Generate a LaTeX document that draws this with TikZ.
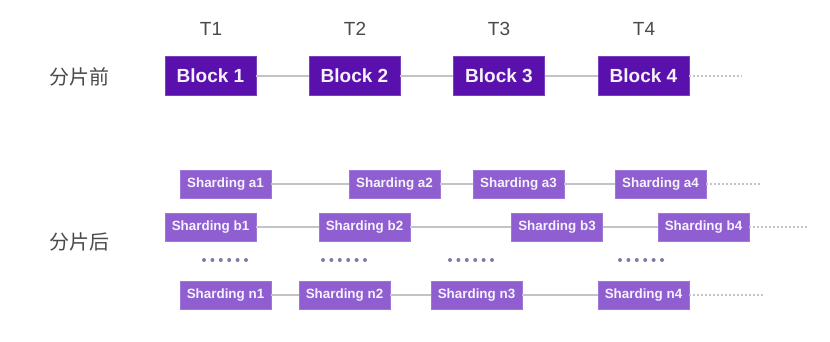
\documentclass[tikz,border=0pt]{standalone}
\usepackage{fontspec}
\setmainfont{Liberation Sans}
\newfontfamily\cjk{Noto Sans CJK SC}
\definecolor{blockc}{HTML}{5A10AD}
\definecolor{shardc}{HTML}{8F5FD2}
\definecolor{linec}{HTML}{C4C4C8}
\definecolor{dotc}{HTML}{7E7BA8}
\definecolor{labc}{HTML}{4A4A4A}
\begin{document}
\begin{tikzpicture}[x=1pt,y=-1pt,
  blockbox/.style={fill=blockc,draw=blockc!80!white,line width=0.6pt,text=white!94!blockc,minimum width=91pt,minimum height=39pt,inner sep=0pt,font=\fontsize{19}{19}\selectfont\bfseries},
  shardbox/.style={fill=shardc,draw=shardc!85!white,line width=0.6pt,text=white!92!shardc,minimum width=91pt,minimum height=28pt,inner sep=0pt,font=\fontsize{13.4}{13.4}\selectfont\bfseries},
  link/.style={draw=linec,line width=1.3pt},
  tail/.style={draw=linec,line width=1.3pt,dash pattern=on 1.5pt off 2.5pt},
  tlab/.style={font=\fontsize{19}{19}\selectfont,text=labc,inner sep=0pt},
  clab/.style={font=\cjk\fontsize{20}{20}\selectfont,text=labc,inner sep=0pt}]
\useasboundingbox (0,0) rectangle (830,342);
\fill[white] (0,0) rectangle (830,342);
% labels
\node[clab] (before) at (79,77) {分片前};
\node[clab] (after) at (79,242) {分片后};
\node[tlab] (t1) at (211,29) {T1};
\node[tlab] (t2) at (355,29) {T2};
\node[tlab] (t3) at (499,29) {T3};
\node[tlab] (t4) at (644,29) {T4};
% blocks
\node[blockbox] (b1) at (210.5,76) {Block 1};
\node[blockbox] (b2) at (354.5,76) {Block 2};
\node[blockbox] (b3) at (499,76) {Block 3};
\node[blockbox] (b4) at (643.5,76) {Block 4};
\coordinate (bend) at (742,76);
\draw[link] (b1) -- (b2) (b2) -- (b3) (b3) -- (b4);
\draw[tail] (b4.east) -- (bend);
% row a
\node[shardbox] (a1) at (225.5,184) {Sharding a1};
\node[shardbox] (a2) at (394.5,184) {Sharding a2};
\node[shardbox] (a3) at (518.5,184) {Sharding a3};
\node[shardbox] (a4) at (660.5,184) {Sharding a4};
\coordinate (aend) at (760,184);
\draw[link] (a1) -- (a2) (a2) -- (a3) (a3) -- (a4);
\draw[tail] (a4.east) -- (aend);
% row b
\node[shardbox] (s1) at (210.5,227) {Sharding b1};
\node[shardbox] (s2) at (364.5,227) {Sharding b2};
\node[shardbox] (s3) at (557,227) {Sharding b3};
\node[shardbox] (s4) at (703.5,227) {Sharding b4};
\coordinate (send) at (808,227);
\draw[link] (s1) -- (s2) (s2) -- (s3) (s3) -- (s4);
\draw[tail] (s4.east) -- (send);
% row n
\node[shardbox] (n1) at (225.5,295) {Sharding n1};
\node[shardbox] (n2) at (344.5,295) {Sharding n2};
\node[shardbox] (n3) at (476.5,295) {Sharding n3};
\node[shardbox] (n4) at (643.5,295) {Sharding n4};
\coordinate (nend) at (763,295);
\draw[link] (n1) -- (n2) (n2) -- (n3) (n3) -- (n4);
\draw[tail] (n4.east) -- (nend);
% ellipsis dots
\foreach \x in {204,323,450,620}{
  \foreach \i in {0,...,5}{
    \fill[dotc] (\x+\i*8.4,260) circle (2pt);
  }
}
\end{tikzpicture}
\end{document}
